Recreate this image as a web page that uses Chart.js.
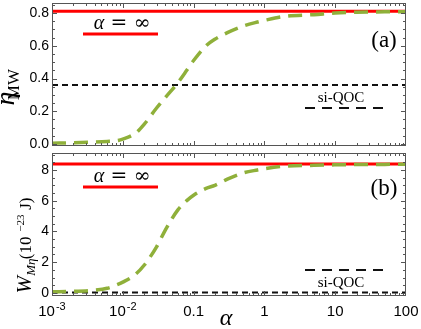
<!DOCTYPE html>
<html lang="en">
<head>
<meta charset="UTF-8">
<title>Efficiency and work vs alpha</title>
<script src="https://cdn.jsdelivr.net/npm/chart.js@4"></script>
<style>
  body { margin: 0; background: #fff; }
  #wrap { position: relative; width: 421px; height: 329px; }
  canvas { position: absolute; left: 0; }
</style>
</head>
<body>
<div id="wrap">
  <canvas id="topChart" width="421" height="150" style="top:0"></canvas>
  <canvas id="bottomChart" width="421" height="179" style="top:150px"></canvas>
</div>
<script>
// values
const alphaValues = [0.001, 0.002, 0.004, 0.006, 0.008, 0.01, 0.015, 0.02, 0.03, 0.04, 0.06, 0.08,
                     0.1, 0.15, 0.2, 0.3, 0.5, 0.8, 1, 2, 5, 10, 20, 50, 100];
const etaGreen = [0.005, 0.007, 0.012, 0.016, 0.02, 0.03, 0.065, 0.12, 0.22, 0.285, 0.375, 0.45,
                  0.51, 0.60, 0.64, 0.68, 0.72, 0.745, 0.755, 0.78, 0.79, 0.80, 0.805, 0.807, 0.808];
const workGreen = [0.08, 0.1, 0.18, 0.3, 0.5, 0.7, 1.2, 1.8, 3.0, 4.1, 5.4, 6.0,
                   6.35, 6.8, 7.0, 7.4, 7.8, 8.0, 8.08, 8.25, 8.3, 8.33, 8.35, 8.36, 8.37];
const alphaEnds = [0.001, 100];
const etaInfinite = [0.81, 0.81];
const etaQOC = [0.36, 0.36];
const workInfinite = [8.38, 8.38];
const workQOC = [0.02, 0.02];

const xTickValues = [0.001, 0.01, 0.1, 1, 10, 100];
const xTickLabels = [['10', '-3'], ['10', '-2'], ['0.1'], ['1'], ['10'], ['100']];
const etaTicks = [0, 0.2, 0.4, 0.6, 0.8];
const etaTickLabels = ['0.0', '0.2', '0.4', '0.6', '0.8'];
const workTicks = [0, 2, 4, 6, 8];
const workTickLabels = ['0', '2', '4', '6', '8'];

const GREEN = '#8fb03a';
const RED = '#ff0000';
const BLACK = '#111111';

function pts(xs, ys) { return xs.map((x, i) => ({ x: x, y: ys[i] })); }

function drawRotated(ctx, parts, cx, cy) {
  // parts: [text, font, baselineShift]
  ctx.save();
  ctx.translate(cx, cy);
  ctx.rotate(-Math.PI / 2);
  let total = 0;
  parts.forEach(p => { ctx.font = p[1]; total += ctx.measureText(p[0]).width; });
  let x = -total / 2;
  ctx.textBaseline = 'alphabetic';
  parts.forEach(p => {
    ctx.font = p[1];
    ctx.fillText(p[0], x, p[2]);
    x += ctx.measureText(p[0]).width;
  });
  ctx.restore();
}

const decoPlugin = {
  id: 'deco',
  afterDatasetsDraw(chart, args, opts) {
    const ctx = chart.ctx, a = chart.chartArea;
    const xs = chart.scales.x, ys = chart.scales.y;
    ctx.save();
    ctx.strokeStyle = '#555';
    ctx.lineWidth = 1;
    ctx.strokeRect(a.left + 0.5, a.top + 0.5, a.right - a.left - 1, a.bottom - a.top - 1);

    // inward ticks, log x
    ctx.beginPath();
    for (let e = -3; e <= 1; e++) {
      for (let m = 1; m <= 9; m++) {
        const v = m * Math.pow(10, e);
        const px = Math.round(xs.getPixelForValue(v)) + 0.5;
        const len = m === 1 ? 5 : 3;
        ctx.moveTo(px, a.bottom); ctx.lineTo(px, a.bottom - len);
        ctx.moveTo(px, a.top); ctx.lineTo(px, a.top + len);
      }
    }
    // y ticks
    for (let k = 0; k * opts.minorStep <= opts.yMax; k++) {
      const v = k * opts.minorStep;
      const py = Math.round(ys.getPixelForValue(v)) + 0.5;
      const len = k % 4 === 0 ? 5 : 3;
      ctx.moveTo(a.left, py); ctx.lineTo(a.left + len, py);
      ctx.moveTo(a.right, py); ctx.lineTo(a.right - len, py);
    }
    ctx.stroke();

    // y tick labels
    ctx.fillStyle = '#000';
    ctx.font = '14px "Liberation Sans", Arial, sans-serif';
    ctx.textAlign = 'right';
    ctx.textBaseline = 'middle';
    opts.yTicks.forEach((v, i) => {
      ctx.fillText(opts.yLabels[i], a.left - 3, ys.getPixelForValue(v));
    });

    // panel tag
    ctx.textAlign = 'center';
    ctx.textBaseline = 'alphabetic';
    ctx.font = '23px "Liberation Serif", serif';
    ctx.fillText(opts.tag, 384, opts.tagY);

    // alpha = infinity key
    ctx.font = 'italic 20px "Liberation Serif", serif';
    const aw = ctx.measureText('α').width;
    ctx.font = '20px "DejaVu Serif", "Liberation Serif", serif';
    const rest = ' = ∞';
    const rw = ctx.measureText(rest).width;
    let sx = 122 - (aw + rw) / 2;
    ctx.textAlign = 'left';
    ctx.font = 'italic 20px "Liberation Serif", serif';
    ctx.fillText('α', sx, opts.infTextY);
    ctx.font = '20px "DejaVu Serif", "Liberation Serif", serif';
    ctx.fillText(rest, sx + aw, opts.infTextY);
    ctx.strokeStyle = RED;
    ctx.lineWidth = 3;
    ctx.beginPath();
    ctx.moveTo(83, opts.infLineY); ctx.lineTo(158, opts.infLineY);
    ctx.stroke();

    // si-QOC key
    ctx.textAlign = 'center';
    ctx.font = '15px "Liberation Serif", serif';
    ctx.fillText('si-QOC', 341, opts.qocTextY);
    ctx.strokeStyle = BLACK;
    ctx.lineWidth = 2;
    ctx.setLineDash([10, 7]);
    ctx.beginPath();
    ctx.moveTo(305, opts.qocLineY); ctx.lineTo(384, opts.qocLineY);
    ctx.stroke();
    ctx.setLineDash([]);

    // y title
    ctx.fillStyle = '#000';
    drawRotated(ctx, opts.title, opts.titleX, opts.titleY);

    // x labels on the lower panel
    if (opts.xLabels) {
      ctx.textAlign = 'left';
      ctx.textBaseline = 'alphabetic';
      xTickValues.forEach((v, i) => {
        const lab = xTickLabels[i];
        const px = xs.getPixelForValue(v);
        ctx.font = '15px "Liberation Sans", Arial, sans-serif';
        const w0 = ctx.measureText(lab[0]).width;
        let w1 = 0;
        if (lab[1]) { ctx.font = '11px "Liberation Sans", Arial, sans-serif'; w1 = ctx.measureText(lab[1]).width + 1; }
        let x0 = px - (w0 + w1) / 2;
        ctx.font = '15px "Liberation Sans", Arial, sans-serif';
        ctx.fillText(lab[0], x0, 166);
        if (lab[1]) {
          ctx.font = '11px "Liberation Sans", Arial, sans-serif';
          ctx.fillText(lab[1], x0 + w0 + 1, 160);
        }
      });
      ctx.textAlign = 'center';
      ctx.font = 'italic 24px "Liberation Serif", serif';
      ctx.fillText('α', 226, 175);
    }
    ctx.restore();
  }
};

function makeChart(id, green, inf, qoc, yMin, yMax, padBottom, deco) {
  return new Chart(document.getElementById(id), {
    type: 'line',
    data: {
      datasets: [
        { data: pts(alphaValues, green), borderColor: GREEN, borderWidth: 3.5,
          borderDash: [14, 8], cubicInterpolationMode: 'monotone' },
        { data: pts(alphaEnds, inf), borderColor: RED, borderWidth: 3 },
        { data: pts(alphaEnds, qoc), borderColor: BLACK, borderWidth: 2, borderDash: [6, 4] }
      ]
    },
    options: {
      responsive: false,
      animation: false,
      layout: { padding: { left: 52, right: 15, top: 3, bottom: padBottom } },
      elements: { point: { radius: 0 } },
      scales: {
        x: { type: 'logarithmic', min: 0.001, max: 100, display: false },
        y: { type: 'linear', min: yMin, max: yMax, display: false }
      },
      plugins: { legend: { display: false }, tooltip: { enabled: false }, deco: deco }
    },
    plugins: [decoPlugin]
  });
}

makeChart('topChart', etaGreen, etaInfinite, etaQOC, -0.012, 0.861, 4, {
  minorStep: 0.05, yMax: 0.86, yTicks: etaTicks, yLabels: etaTickLabels,
  tag: '(a)', tagY: 47, infTextY: 29, infLineY: 34, qocTextY: 102, qocLineY: 108,
  title: [['η', 'italic 28px "Liberation Serif", serif', 0],
          ['MW', '17px "Liberation Serif", serif', 5]],
  titleX: 14, titleY: 76
});

makeChart('bottomChart', workGreen, workInfinite, workQOC, -0.2, 9.1, 33, {
  minorStep: 0.5, yMax: 9.1, yTicks: workTicks, yLabels: workTickLabels,
  tag: '(b)', tagY: 45, infTextY: 32, infLineY: 37, qocTextY: 137, qocLineY: 120,
  title: [['W', 'italic 21px "Liberation Serif", serif', 0],
          ['Mη', 'italic 13px "Liberation Serif", serif', 4],
          [' (10', '17px "Liberation Serif", serif', 0],
          ['−23', '11px "Liberation Serif", serif', -7],
          [' J)', '17px "Liberation Serif", serif', 0]],
  titleX: 31, titleY: 87,
  xLabels: true
});
</script>
</body>
</html>
